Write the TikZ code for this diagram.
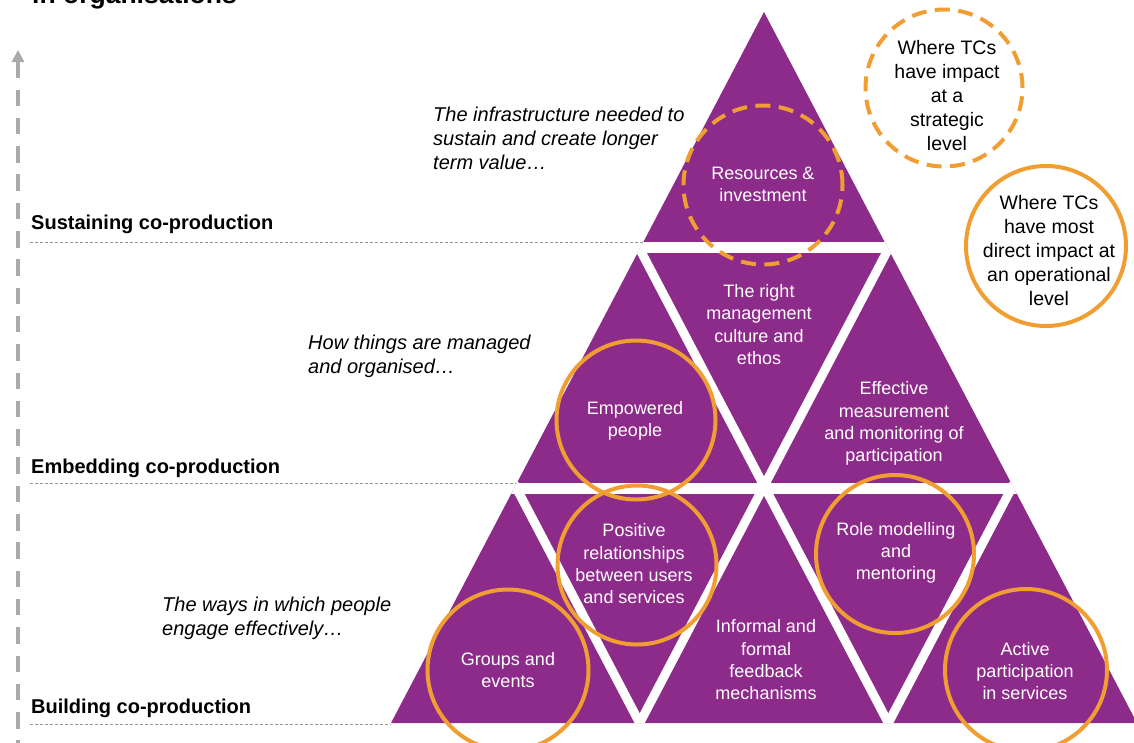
\documentclass[tikz,border=0pt]{standalone}
\usepackage{fontspec}
\setmainfont{Liberation Sans}
\usetikzlibrary{arrows.meta}
\definecolor{pyramid}{RGB}{140,43,138}
\definecolor{tcorange}{RGB}{240,158,50}
\definecolor{arrowgrey}{RGB}{170,170,170}
\definecolor{ruleline}{RGB}{150,150,150}
\begin{document}
\begin{tikzpicture}[x=1pt,y=-1pt,
  tritext/.style={text=white, align=center, inner sep=0pt,
    font=\fontsize{18}{22.3}\selectfont},
  tctext/.style={text=black, align=center, inner sep=0pt,
    font=\fontsize{19.5}{24}\selectfont},
  note/.style={anchor=west, align=left, inner sep=0pt,
    font=\itshape\fontsize{20}{24.3}\selectfont},
  levellabel/.style={anchor=base west, inner sep=0pt,
    font=\bfseries\fontsize{20}{24}\selectfont},
  ring/.style={circle, draw=tcorange, line width=4pt, minimum size=#1, inner sep=0pt},
  dashedring/.style={ring=#1, dash pattern=on 15pt off 8.5pt},
  gap/.style={white, line cap=rect},
  levelrule/.style={ruleline, line width=0.8pt, dash pattern=on 3pt off 2pt},
]
\useasboundingbox (0,0) rectangle (1134,742);
\clip (0,0) rectangle (1134,742);

% heading, only its last line lies inside the frame
\node[anchor=base west, inner sep=0pt, font=\bfseries\fontsize{26.5}{30}\selectfont]
  (title) at (32,3) {in organisations};

% rising scale on the left
\coordinate (arrowtop) at (18,50);
\coordinate (arrowfoot) at (18,745);
\draw[arrowgrey, line width=4pt, dash pattern=on 16.5pt off 11.8pt,
  {Triangle[width=12pt,length=12pt]}-] (arrowtop) -- (arrowfoot);

% pyramid outline and its triangular grid
\coordinate (apex) at (764,12);
\coordinate (bl) at (391,723);
\coordinate (br) at (1137,723);
\coordinate (L1) at (639.67,249);
\coordinate (R1) at (888.33,249);
\coordinate (L2) at (515.33,486);
\coordinate (R2) at (1012.67,486);
\coordinate (P1) at (639.67,723);
\coordinate (P2) at (888.33,723);

% level rules
\coordinate (s0) at (30,242);  \coordinate (s1) at (644,242);
\coordinate (e0) at (30,483);  \coordinate (e1) at (519,483);
\coordinate (b0) at (30,724.5);\coordinate (b1) at (391,724.5);
\draw[levelrule] (s0) -- (s1);
\draw[levelrule] (e0) -- (e1);
\draw[levelrule] (b0) -- (b1);

\fill[pyramid] (apex) -- (bl) -- (br) -- cycle;
\begin{scope}
  \clip (apex) -- (bl) -- (br) -- cycle;
  \draw[gap, line width=11.5pt] (300,247.5) -- (1200,247.5);
  \draw[gap, line width=11.5pt] (300,488.5) -- (1200,488.5);
  \draw[gap, line width=9pt] (P1) -- (R1);
  \draw[gap, line width=9pt] (P2) -- (R2);
  \draw[gap, line width=9pt] (P1) -- (L2);
  \draw[gap, line width=9pt] (P2) -- (L1);
\end{scope}

% level names
\node[levellabel] (sustaining) at (31,229) {Sustaining co-production};
\node[levellabel] (embedding) at (31,473) {Embedding co-production};
\node[levellabel] (building) at (31,713) {Building co-production};

% notes beside each level
\node[note] (noteinfra) at (433,138.5)
  {The infrastructure needed to\\sustain and create longer\\term value\ldots};
\node[note] (notemanaged) at (308,356.5)
  {How things are managed\\and organised\ldots};
\node[note] (noteways) at (162,618.5)
  {The ways in which people\\engage effectively\ldots};

% rings marking where TCs act
\node[dashedring=159pt] (resources) at (763,185) {};
\node[dashedring=157pt] (strategic) at (944,88) {};
\node[ring=160pt] (operational) at (1046,246) {};
\node[ring=159pt] (empowered) at (636,420) {};
\node[ring=159pt] (positive) at (637,565) {};
\node[ring=161pt] (groups) at (508,670) {};
\node[ring=158pt] (role) at (895,554) {};
\node[ring=162pt] (active) at (1026,670) {};

% texts of the pyramid
\node[tritext] (tresources) at (763,184.5) {Resources \&\\investment};
\node[tritext] (tculture) at (759,324.5) {The right\\management\\culture and\\ethos};
\node[tritext] (tmeasure) at (894,423.5) {Effective\\measurement\\and monitoring of\\participation};
\node[tritext] (tempowered) at (635,420.5) {Empowered\\people};
\node[tritext] (tpositive) at (634,564) {Positive\\relationships\\between users\\and services};
\node[tritext] (tgroups) at (508,670) {Groups and\\events};
\node[tritext] (tfeedback) at (766,660) {Informal and\\formal\\feedback\\mechanisms};
\node[tritext] (trole) at (896,553) {Role modelling\\and\\mentoring};
\node[tritext] (tactive) at (1025,671) {Active\\participation\\in services};

% key texts
\node[tctext] (tstrategic) at (947,95.5) {Where TCs\\have impact\\at a\\strategic\\level};
\node[tctext] (toperational) at (1049,251) {Where TCs\\have most\\direct impact at\\an operational\\level};
\end{tikzpicture}
\end{document}
